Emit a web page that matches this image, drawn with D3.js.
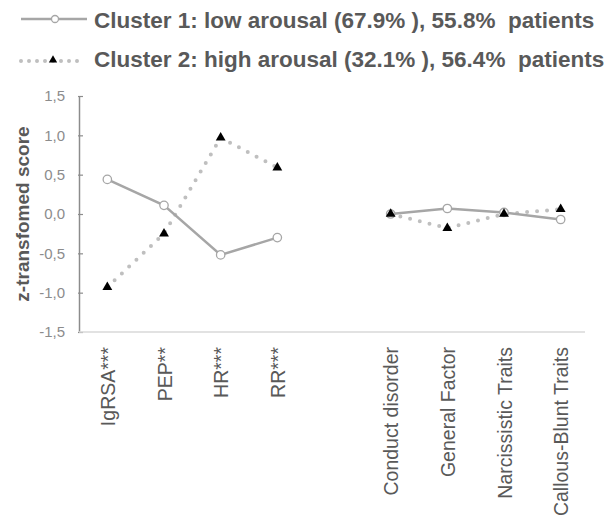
<!DOCTYPE html>
<html>
<head>
<meta charset="utf-8">
<script src="https://cdn.jsdelivr.net/npm/d3@7"></script>
<style>
  body { margin: 0; background: #fff; }
  svg { display: block; font-family: "Liberation Sans", Arial, sans-serif; }
</style>
</head>
<body>
<svg id="chart" width="608" height="525"></svg>
<script>
// Categories along the x axis; the empty slot separates physiology from traits.
const categories = ["IgRSA***", "PEP**", "HR***", "RR***", "",
  "Conduct disorder", "General Factor", "Narcissistic Traits", "Callous-Blunt Traits"];
const physioCats = ["IgRSA***", "PEP**", "HR***", "RR***"];
const traitCats = ["Conduct disorder", "General Factor", "Narcissistic Traits", "Callous-Blunt Traits"];

// Cluster means (z scores)
const cluster1Physio = [0.44, 0.11, -0.52, -0.30];
const cluster1Traits = [0.00, 0.07, 0.02, -0.07];
const cluster2Physio = [-0.93, -0.25, 0.97, 0.59];
const cluster2Traits = [0.00, -0.18, 0.00, 0.06];

const seriesNames = [
  "Cluster 1: low arousal (67.9% ), 55.8%  patients",
  "Cluster 2: high arousal (32.1% ), 56.4%  patients"
];
const yTicks = [-1.5, -1.0, -0.5, 0.0, 0.5, 1.0, 1.5];
const yTitle = "z-transfomed score";

const svg = d3.select("#chart");
const plotLeft = 79, plotRight = 589, plotTop = 96, plotBottom = 332;

const x = d3.scalePoint().domain(categories).range([plotLeft, plotRight]).padding(0.5);
const y = d3.scaleLinear().domain([-1.5, 1.5]).range([plotBottom, plotTop]);
const fmt = v => d3.format(".1f")(v).replace(".", ",").replace("−", "-");

// Y axis
const yAxis = svg.append("g").attr("transform", `translate(${plotLeft},0)`)
  .call(d3.axisLeft(y).tickValues(yTicks).tickFormat(fmt).tickSize(0).tickPadding(14));
yAxis.select(".domain").attr("stroke", "#8c8c8c").attr("stroke-width", 1.5);
yAxis.selectAll(".tick line").attr("stroke", "#8c8c8c").attr("stroke-width", 1.2)
  .attr("x1", -1).attr("x2", 4);
yAxis.selectAll(".tick text").attr("fill", "#8c8c8c").attr("font-size", 15)
  .attr("font-family", "Liberation Sans, Arial, sans-serif");

// X axis baseline and rotated category labels
const xAxis = svg.append("g").attr("transform", `translate(0,${plotBottom})`)
  .call(d3.axisBottom(x).tickSize(0).tickPadding(0));
xAxis.select(".domain").attr("stroke", "#d9d9d9").attr("stroke-width", 1.5)
  .attr("d", `M${plotLeft},0H585`);
xAxis.selectAll(".tick text")
  .attr("font-size", 19.5).attr("fill", "#595959")
  .attr("font-family", "Liberation Sans, Arial, sans-serif")
  .attr("text-anchor", "end")
  .attr("dy", null)
  .attr("transform", "translate(7,15) rotate(-90)")
  .attr("x", 0).attr("y", 0);

// Y axis title
svg.append("text")
  .attr("transform", `translate(29,${(plotTop + plotBottom) / 2}) rotate(-90)`)
  .attr("text-anchor", "middle")
  .attr("font-size", 19).attr("font-weight", "bold").attr("fill", "#595959")
  .text(yTitle);

const line = d3.line().x(d => x(d.c)).y(d => y(d.v));
const zip = (cats, vals) => cats.map((c, i) => ({ c, v: vals[i] }));

const c2 = [zip(physioCats, cluster2Physio), zip(traitCats, cluster2Traits)];
const c1 = [zip(physioCats, cluster1Physio), zip(traitCats, cluster1Traits)];

// Cluster 2: round-dotted line with black triangles
c2.forEach(seg => {
  svg.append("path").datum(seg).attr("d", line)
    .attr("fill", "none").attr("stroke", "#bfbfbf").attr("stroke-width", 4)
    .attr("stroke-linecap", "round").attr("stroke-dasharray", "0,10");
});
// Cluster 1: solid gray line with open circles
c1.forEach(seg => {
  svg.append("path").datum(seg).attr("d", line)
    .attr("fill", "none").attr("stroke", "#a6a6a6").attr("stroke-width", 2.5);
});

const tri = d3.symbol().type(d3.symbolTriangle).size(42);
c1.flat().forEach(d => {
  svg.append("circle").attr("cx", x(d.c)).attr("cy", y(d.v)).attr("r", 4.2)
    .attr("fill", "#fff").attr("stroke", "#a6a6a6").attr("stroke-width", 1.3);
});
c2.flat().forEach(d => {
  svg.append("path").attr("d", tri)
    .attr("transform", `translate(${x(d.c)},${y(d.v)})`).attr("fill", "#000");
});

// Legend
const lg = svg.append("g");
lg.append("line").attr("x1", 21).attr("x2", 87).attr("y1", 19).attr("y2", 19)
  .attr("stroke", "#a6a6a6").attr("stroke-width", 2.5);
lg.append("circle").attr("cx", 55).attr("cy", 19).attr("r", 3.5)
  .attr("fill", "#fff").attr("stroke", "#a6a6a6").attr("stroke-width", 1.3);
lg.append("line").attr("x1", 21).attr("x2", 78).attr("y1", 61).attr("y2", 61)
  .attr("stroke", "#bfbfbf").attr("stroke-width", 4)
  .attr("stroke-linecap", "round").attr("stroke-dasharray", "0,8");
lg.append("path").attr("d", d3.symbol().type(d3.symbolTriangle).size(30))
  .attr("transform", "translate(53,60)").attr("fill", "#000");
lg.selectAll("text.lab").data(seriesNames).join("text")
  .attr("class", "lab")
  .attr("x", 94).attr("y", (d, i) => 28 + i * 39)
  .attr("font-size", 22.5).attr("font-weight", "bold").attr("fill", "#595959")
  .style("white-space", "pre")
  .text(d => d);
</script>
</body>
</html>
